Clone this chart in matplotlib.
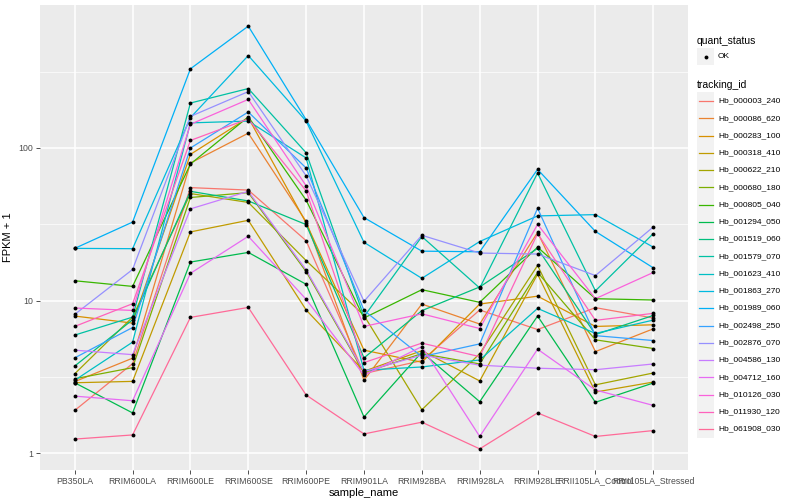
import numpy as np
import matplotlib
matplotlib.use("Agg")
import matplotlib.pyplot as plt
from matplotlib.lines import Line2D
from matplotlib.patches import Rectangle

plt.rcParams['font.family'] = ['Liberation Sans', 'DejaVu Sans']

samples = ["PB350LA", "RRIM600LA", "RRIM600LE", "RRIM600SE", "RRIM600PE",
           "RRIM901LA", "RRIM928BA", "RRIM928LA", "RRIM928LE",
           "RRII105LA_Control", "RRII105LA_Stressed"]

tracking_ids = ["Hb_000003_240", "Hb_000086_620", "Hb_000283_100", "Hb_000318_410",
                "Hb_000622_210", "Hb_000680_180", "Hb_000805_040", "Hb_001294_050",
                "Hb_001519_060", "Hb_001579_070", "Hb_001623_410", "Hb_001863_270",
                "Hb_001989_060", "Hb_002498_250", "Hb_002876_070", "Hb_004586_130",
                "Hb_004712_160", "Hb_010126_030", "Hb_011930_120", "Hb_061908_030"]

quant_status = ["OK"]

# FPKM + 1, one row per tracking_id, one column per sample
fpkm_plus1 = [
    [1.91, 3.87, 55.0, 53.0, 24.7, 3.33, 4.05, 8.69, 6.47, 9.0, 7.7],
    [2.95, 4.2, 79.7, 125.0, 33.0, 3.01, 9.5, 7.03, 28.0, 4.64, 6.54],
    [7.93, 7.13, 90.8, 158.0, 32.3, 4.74, 3.95, 9.5, 10.7, 6.78, 6.95],
    [2.9, 2.96, 28.2, 33.6, 8.69, 3.45, 4.7, 2.98, 14.9, 2.52, 2.93],
    [3.32, 7.8, 50.3, 44.0, 18.3, 8.0, 1.93, 4.5, 17.0, 2.81, 3.36],
    [3.08, 3.64, 47.4, 51.0, 15.5, 3.38, 4.5, 3.85, 15.3, 5.54, 4.86],
    [13.5, 12.4, 78.5, 160.0, 45.5, 7.7, 11.8, 9.75, 22.4, 10.3, 10.1],
    [2.9, 1.84, 17.9, 20.7, 12.8, 1.73, 4.6, 2.18, 7.93, 2.16, 2.89],
    [3.73, 7.5, 52.0, 45.0, 31.5, 4.22, 8.6, 12.3, 22.0, 6.0, 8.0],
    [5.95, 7.8, 197.0, 245.0, 93.0, 7.85, 26.3, 12.1, 68.5, 11.6, 27.5],
    [3.01, 5.35, 146.0, 150.0, 86.0, 3.5, 3.68, 4.09, 8.9, 6.1, 7.46],
    [22.0, 21.9, 158.0, 403.0, 150.0, 24.1, 14.0, 24.4, 35.9, 36.6, 22.4],
    [22.0, 32.7, 330.0, 628.0, 153.0, 35.0, 21.1, 20.9, 72.4, 28.4, 16.4],
    [4.22, 6.67, 100.0, 172.0, 73.9, 8.63, 4.3, 5.21, 40.3, 5.9, 5.48],
    [8.13, 16.0, 161.0, 234.0, 65.7, 9.9, 26.8, 20.5, 20.2, 14.6, 30.4],
    [4.74, 4.43, 39.9, 52.0, 15.9, 3.43, 4.4, 3.78, 3.61, 3.53, 3.85],
    [2.37, 2.21, 15.1, 26.4, 10.2, 3.25, 5.0, 1.29, 4.81, 2.6, 2.06],
    [8.95, 8.63, 143.0, 208.0, 56.5, 6.78, 8.2, 6.57, 31.6, 10.3, 15.3],
    [6.78, 9.55, 112.0, 155.0, 52.4, 3.93, 5.27, 4.3, 27.5, 7.43, 8.26],
    [1.24, 1.32, 7.77, 9.03, 2.41, 1.34, 1.6, 1.07, 1.84, 1.29, 1.41],
]


def hcl_hex(h, c=100.0, l=65.0):
    # polar Luv -> sRGB, same as R's hcl()
    xn, yn, zn = 95.047, 100.0, 108.883
    hr = np.deg2rad(h)
    U, V = c * np.cos(hr), c * np.sin(hr)
    Y = yn * ((l + 16) / 116) ** 3
    d = xn + 15 * yn + 3 * zn
    u = U / (13 * l) + 4 * xn / d
    v = V / (13 * l) + 9 * yn / d
    X = Y * 9 * u / (4 * v)
    Z = Y * (12 - 3 * u - 20 * v) / (4 * v)
    M = np.array([[3.2406, -1.5372, -0.4986],
                  [-0.9689, 1.8758, 0.0415],
                  [0.0557, -0.2040, 1.0570]])
    rgb = M @ (np.array([X, Y, Z]) / 100.0)
    rgb = np.where(rgb <= 0.0031308, 12.92 * rgb, 1.055 * np.abs(rgb) ** (1 / 2.4) - 0.055)
    return tuple(np.clip(rgb, 0, 1))


n = len(tracking_ids)
hues = np.linspace(15, 375, n + 1)[:n]
colors = [hcl_hex(h) for h in hues]

W, H = 800, 500
fig = plt.figure(figsize=(8, 5), dpi=100)
pl, pr, pt, pb = 40, 688, 5, 470
ax = fig.add_axes([pl / W, 1 - pb / H, (pr - pl) / W, (pb - pt) / H])
ax.set_facecolor('#EBEBEB')

x = np.arange(len(samples))
vals = np.array(fpkm_plus1)
for i in range(n):
    ax.plot(x, vals[i], color=colors[i], lw=0.9, zorder=3)
    ax.plot(x, vals[i], 'o', color='black', ms=2.8, mew=0, zorder=4)

ax.set_yscale('log')
lo, hi = np.log10(vals.min()), np.log10(vals.max())
pad = (hi - lo) * 0.05
ax.set_ylim(10 ** (lo - pad), 10 ** (hi + pad))
ax.set_xlim(-0.6, len(samples) - 0.4)

ax.set_yticks([1, 10, 100])
ax.set_yticklabels(["1", "10", "100"])
ax.set_yticks([10 ** 0.5, 10 ** 1.5, 10 ** 2.5], minor=True)
ax.yaxis.set_minor_formatter(matplotlib.ticker.NullFormatter())
ax.set_xticks(x)
ax.set_xticklabels(samples)

ax.grid(True, which='major', color='white', lw=1.1, zorder=0)
ax.grid(True, which='minor', axis='y', color='white', lw=0.5, zorder=0)
ax.set_axisbelow(True)
for s in ax.spines.values():
    s.set_visible(False)
ax.tick_params(which='major', length=2.8, width=0.6, color='#333333',
               labelcolor='#4D4D4D', labelsize=6.3, pad=2)
ax.tick_params(which='minor', length=0)

ax.set_xlabel("sample_name", fontsize=8, color='black', labelpad=2)
ax.set_ylabel("FPKM + 1", fontsize=8, color='black', labelpad=4)

# legends, drawn in figure pixel coords
def fx(px):
    return px / W


def fy(py):
    return 1 - py / H


kx0, kx1 = 697, 714
fig.text(fx(697), fy(40.5), "quant_status", fontsize=7.5, va='center', ha='left')
fig.add_artist(Rectangle((fx(kx0), fy(65)), fx(kx1) - fx(kx0), 17 / H,
                         transform=fig.transFigure, color='#F2F2F2', lw=0))
fig.add_artist(Line2D([fx((kx0 + kx1) / 2)], [fy(56.5)], marker='o', ms=2.8, mew=0,
                      color='black', transform=fig.transFigure))
fig.text(fx(718), fy(56.5), quant_status[0], fontsize=6, va='center', ha='left')

fig.text(fx(697), fy(85), "tracking_id", fontsize=7.5, va='center', ha='left')
step = 17.27
for i, name in enumerate(tracking_ids):
    yc = 101 + i * step
    fig.add_artist(Rectangle((fx(kx0), fy(yc + step / 2)), fx(kx1) - fx(kx0), step / H,
                             transform=fig.transFigure, color='#F2F2F2', lw=0))
    fig.add_artist(Line2D([fx(kx0 + 1.5), fx(kx1 - 1.5)], [fy(yc), fy(yc)], color=colors[i],
                          lw=0.9, transform=fig.transFigure))
    fig.text(fx(718), fy(yc), name, fontsize=6, va='center', ha='left')

fig.savefig("out.png", dpi=100)
